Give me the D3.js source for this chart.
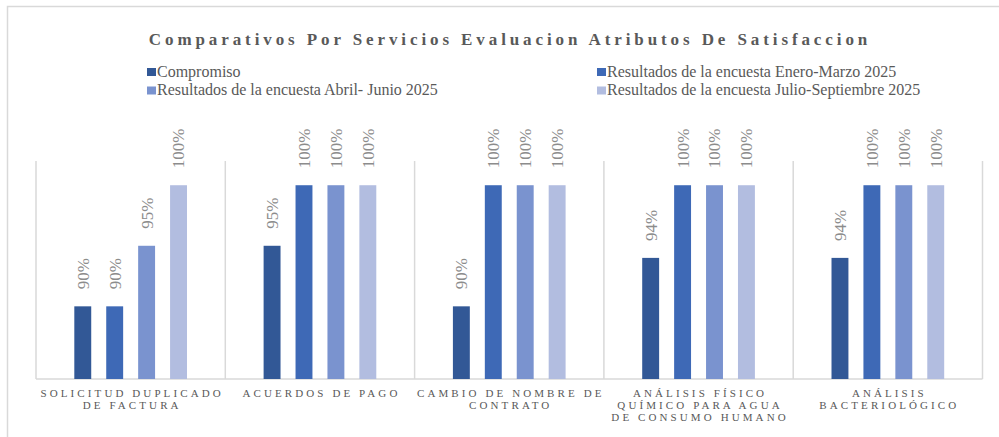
<!DOCTYPE html>
<html lang="es">
<head>
<meta charset="utf-8">
<title>Comparativos Por Servicios</title>
<script src="https://cdn.jsdelivr.net/npm/d3@7"></script>
<style>
  body { margin: 0; background: #fff; }
</style>
</head>
<body>
<div id="chart"></div>
<script>
// categorias (lineas del rotulo tal como salen en el eje)
var categorias = [
  ["SOLICITUD DUPLICADO", "DE FACTURA"],
  ["ACUERDOS DE PAGO"],
  ["CAMBIO DE NOMBRE DE", "CONTRATO"],
  ["ANÁLISIS FÍSICO", "QUÍMICO PARA AGUA", "DE CONSUMO HUMANO"],
  ["ANÁLISIS", "BACTERIOLÓGICO"]
];
var series = [
  "Compromiso",
  "Resultados de la encuesta Enero-Marzo 2025",
  "Resultados de la encuesta Abril- Junio 2025",
  "Resultados de la encuesta Julio-Septiembre 2025"
];
var compromiso = [0.90, 0.95, 0.90, 0.94, 0.94];
var eneroMarzo = [0.90, 1.00, 1.00, 1.00, 1.00];
var abrilJunio = [0.95, 1.00, 1.00, 1.00, 1.00];
var julioSept  = [1.00, 1.00, 1.00, 1.00, 1.00];
var colores = ["#325896", "#3e69b6", "#7a93cf", "#b2bde0"];

var valores = [compromiso, eneroMarzo, abrilJunio, julioSept];
var width = 999, height = 437;
var fuente = "'Liberation Serif', 'Times New Roman', 'DejaVu Serif', serif";

var svg = d3.select("#chart").append("svg")
  .attr("width", width).attr("height", height)
  .style("font-family", fuente);

// borde del area del grafico
svg.append("rect")
  .attr("x", 7.5).attr("y", 6.5)
  .attr("width", 1000).attr("height", 500)
  .attr("fill", "none").attr("stroke", "#d9d9d9").attr("stroke-width", 1.5);

var x0 = d3.scaleBand()
  .domain(d3.range(categorias.length))
  .range([36, 982.5]);

var x1 = d3.scaleBand()
  .domain(d3.range(series.length))
  .range([0, x0.bandwidth()])
  .paddingInner(0.47)
  .paddingOuter(1.2);

var y = d3.scaleLinear()
  .domain([0.84, 1.02])
  .range([379, 161]);

// separadores verticales entre categorias
var seps = x0.domain().map(function(i){ return x0(i); }).concat([x0.range()[1]]);
svg.selectAll(".sep").data(seps).enter().append("line")
  .attr("class", "sep")
  .attr("x1", function(d){ return d; }).attr("x2", function(d){ return d; })
  .attr("y1", y(1.02)).attr("y2", y(0.84))
  .attr("stroke", "#d9d9d9").attr("stroke-width", 1.5);

// eje x
svg.append("line")
  .attr("x1", x0.range()[0]).attr("x2", x0.range()[1])
  .attr("y1", y(0.84)).attr("y2", y(0.84))
  .attr("stroke", "#d9d9d9").attr("stroke-width", 1.5);

var grupos = svg.selectAll(".grupo")
  .data(categorias)
  .enter().append("g")
  .attr("class", "grupo")
  .attr("transform", function(d, i){ return "translate(" + x0(i) + ",0)"; });

grupos.each(function(cat, ci) {
  var g = d3.select(this);
  var datos = valores.map(function(v, si){ return {s: si, v: v[ci]}; });
  g.selectAll("rect").data(datos).enter().append("rect")
    .attr("x", function(d){ return x1(d.s); })
    .attr("width", x1.bandwidth())
    .attr("y", function(d){ return y(d.v); })
    .attr("height", function(d){ return y(0.84) - y(d.v); })
    .attr("fill", function(d){ return colores[d.s]; });
  g.selectAll(".lbl").data(datos).enter().append("text")
    .attr("class", "lbl")
    .attr("transform", function(d){
      return "translate(" + (x1(d.s) + x1.bandwidth() / 2) + "," + (y(d.v) - 17) + ") rotate(-90)";
    })
    .attr("dy", "0.35em")
    .attr("font-family", fuente)
    .attr("font-size", "17px")
    .attr("fill", "#8c8c8c")
    .text(function(d){ return d3.format(".0%")(d.v); });
  g.selectAll(".cat").data(cat).enter().append("text")
    .attr("class", "cat")
    .attr("x", x0.bandwidth() / 2 + 1.5)
    .attr("y", function(d, i){ return 397 + i * 12.2; })
    .attr("text-anchor", "middle")
    .attr("font-family", fuente)
    .attr("font-size", "11px")
    .attr("letter-spacing", "3.1px")
    .attr("fill", "#595959")
    .text(function(d){ return d; });
});

// titulo
svg.append("text")
  .attr("x", 510).attr("y", 45)
  .attr("text-anchor", "middle")
  .attr("font-family", fuente)
  .attr("font-size", "17px")
  .attr("font-weight", "bold")
  .attr("letter-spacing", "3.9px")
  .attr("fill", "#595959")
  .text("Comparativos Por Servicios Evaluacion Atributos De Satisfaccion");

// leyenda
var leyX = [147, 597], leyY = [68, 86.5];
var ley = svg.selectAll(".ley").data(series).enter().append("g")
  .attr("class", "ley")
  .attr("transform", function(d, i){
    return "translate(" + leyX[i % 2] + "," + leyY[Math.floor(i / 2)] + ")";
  });
ley.append("rect")
  .attr("width", 9).attr("height", 8)
  .attr("fill", function(d, i){ return colores[i]; });
ley.append("text")
  .attr("x", 10).attr("y", 8.5)
  .attr("font-family", fuente)
  .attr("font-size", "16px")
  .attr("fill", "#595959")
  .text(function(d){ return d; });
</script>
</body>
</html>
